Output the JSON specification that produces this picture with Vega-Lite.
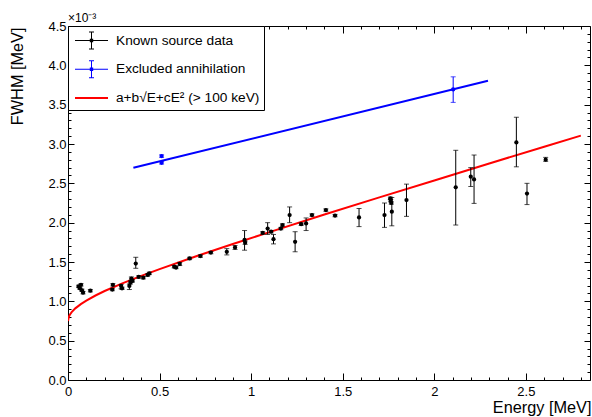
{
  "$schema": "https://vega.github.io/schema/vega-lite/v6.json",
  "width": 522,
  "height": 354,
  "autosize": "none",
  "padding": {"left": 68, "top": 26, "right": 2, "bottom": 37},
  "background": "white",
  "config": {
    "view": {"stroke": "black", "strokeWidth": 1},
    "font": "Liberation Sans",
    "axis": {"domain": false, "grid": false, "tickColor": "black", "labelColor": "black", "titleColor": "black", "labelFont": "Liberation Sans", "titleFont": "Liberation Sans", "labelFontSize": 13, "titleFontSize": 16.3, "titleFontWeight": "normal", "labelFlush": false, "labelOverlap": false}
  },
  "datasets": {
    "known": [
      {"E": 0.058, "F": 1.19, "lo": 1.175, "hi": 1.205, "series": "Known source data"},
      {"E": 0.065, "F": 1.165, "lo": 1.15, "hi": 1.18, "series": "Known source data"},
      {"E": 0.071, "F": 1.21, "lo": 1.195, "hi": 1.225, "series": "Known source data"},
      {"E": 0.076, "F": 1.14, "lo": 1.125, "hi": 1.155, "series": "Known source data"},
      {"E": 0.082, "F": 1.11, "lo": 1.095, "hi": 1.125, "series": "Known source data"},
      {"E": 0.122, "F": 1.135, "lo": 1.12, "hi": 1.15, "series": "Known source data"},
      {"E": 0.242, "F": 1.15, "lo": 1.135, "hi": 1.165, "series": "Known source data"},
      {"E": 0.245, "F": 1.21, "lo": 1.195, "hi": 1.225, "series": "Known source data"},
      {"E": 0.29, "F": 1.195, "lo": 1.16, "hi": 1.215, "series": "Known source data"},
      {"E": 0.295, "F": 1.165, "lo": 1.15, "hi": 1.18, "series": "Known source data"},
      {"E": 0.335, "F": 1.195, "lo": 1.15, "hi": 1.22, "series": "Known source data"},
      {"E": 0.341, "F": 1.24, "lo": 1.22, "hi": 1.26, "series": "Known source data"},
      {"E": 0.346, "F": 1.29, "lo": 1.27, "hi": 1.31, "series": "Known source data"},
      {"E": 0.352, "F": 1.26, "lo": 1.245, "hi": 1.275, "series": "Known source data"},
      {"E": 0.37, "F": 1.48, "lo": 1.42, "hi": 1.56, "series": "Known source data"},
      {"E": 0.386, "F": 1.31, "lo": 1.295, "hi": 1.325, "series": "Known source data"},
      {"E": 0.411, "F": 1.3, "lo": 1.285, "hi": 1.315, "series": "Known source data"},
      {"E": 0.435, "F": 1.335, "lo": 1.32, "hi": 1.35, "series": "Known source data"},
      {"E": 0.444, "F": 1.355, "lo": 1.34, "hi": 1.37, "series": "Known source data"},
      {"E": 0.58, "F": 1.44, "lo": 1.425, "hi": 1.455, "series": "Known source data"},
      {"E": 0.59, "F": 1.43, "lo": 1.415, "hi": 1.445, "series": "Known source data"},
      {"E": 0.61, "F": 1.475, "lo": 1.455, "hi": 1.495, "series": "Known source data"},
      {"E": 0.664, "F": 1.545, "lo": 1.53, "hi": 1.56, "series": "Known source data"},
      {"E": 0.723, "F": 1.575, "lo": 1.56, "hi": 1.59, "series": "Known source data"},
      {"E": 0.78, "F": 1.62, "lo": 1.605, "hi": 1.635, "series": "Known source data"},
      {"E": 0.867, "F": 1.63, "lo": 1.59, "hi": 1.67, "series": "Known source data"},
      {"E": 0.912, "F": 1.685, "lo": 1.66, "hi": 1.71, "series": "Known source data"},
      {"E": 0.964, "F": 1.78, "lo": 1.65, "hi": 1.9, "series": "Known source data"},
      {"E": 0.967, "F": 1.745, "lo": 1.725, "hi": 1.765, "series": "Known source data"},
      {"E": 1.063, "F": 1.87, "lo": 1.855, "hi": 1.885, "series": "Known source data"},
      {"E": 1.09, "F": 1.925, "lo": 1.85, "hi": 2.0, "series": "Known source data"},
      {"E": 1.109, "F": 1.885, "lo": 1.87, "hi": 1.9, "series": "Known source data"},
      {"E": 1.122, "F": 1.79, "lo": 1.73, "hi": 1.85, "series": "Known source data"},
      {"E": 1.162, "F": 1.925, "lo": 1.91, "hi": 1.94, "series": "Known source data"},
      {"E": 1.171, "F": 1.97, "lo": 1.955, "hi": 1.985, "series": "Known source data"},
      {"E": 1.21, "F": 2.097, "lo": 2.0, "hi": 2.2, "series": "Known source data"},
      {"E": 1.24, "F": 1.757, "lo": 1.63, "hi": 1.885, "series": "Known source data"},
      {"E": 1.273, "F": 1.98, "lo": 1.965, "hi": 1.995, "series": "Known source data"},
      {"E": 1.3, "F": 1.99, "lo": 1.9, "hi": 2.06, "series": "Known source data"},
      {"E": 1.332, "F": 2.097, "lo": 2.082, "hi": 2.112, "series": "Known source data"},
      {"E": 1.408, "F": 2.16, "lo": 2.145, "hi": 2.175, "series": "Known source data"},
      {"E": 1.458, "F": 2.09, "lo": 2.075, "hi": 2.105, "series": "Known source data"},
      {"E": 1.589, "F": 2.067, "lo": 1.95, "hi": 2.18, "series": "Known source data"},
      {"E": 1.728, "F": 2.097, "lo": 1.94, "hi": 2.25, "series": "Known source data"},
      {"E": 1.76, "F": 2.31, "lo": 2.295, "hi": 2.325, "series": "Known source data"},
      {"E": 1.762, "F": 2.28, "lo": 2.265, "hi": 2.295, "series": "Known source data"},
      {"E": 1.765, "F": 2.25, "lo": 2.235, "hi": 2.265, "series": "Known source data"},
      {"E": 1.768, "F": 2.14, "lo": 1.96, "hi": 2.32, "series": "Known source data"},
      {"E": 1.848, "F": 2.287, "lo": 2.08, "hi": 2.49, "series": "Known source data"},
      {"E": 2.117, "F": 2.45, "lo": 1.97, "hi": 2.92, "series": "Known source data"},
      {"E": 2.199, "F": 2.585, "lo": 2.46, "hi": 2.7, "series": "Known source data"},
      {"E": 2.217, "F": 2.55, "lo": 2.245, "hi": 2.86, "series": "Known source data"},
      {"E": 2.448, "F": 3.02, "lo": 2.71, "hi": 3.34, "series": "Known source data"},
      {"E": 2.506, "F": 2.37, "lo": 2.23, "hi": 2.5, "series": "Known source data"},
      {"E": 2.608, "F": 2.8, "lo": 2.78, "hi": 2.83, "series": "Known source data"}
    ],
    "excl": [
      {"E": 0.511, "F": 2.846, "lo": 2.83, "hi": 2.862, "series": "Excluded annihilation"},
      {"E": 0.511, "F": 2.761, "lo": 2.745, "hi": 2.777, "series": "Excluded annihilation"},
      {"E": 2.103, "F": 3.694, "lo": 3.529, "hi": 3.854, "series": "Excluded annihilation"}
    ],
    "exclfit": [
      {"E": 0.357, "F": 2.698},
      {"E": 2.293, "F": 3.803}
    ],
    "fit": [
      {"E": 0.0, "F": 0.75},
      {"E": 0.005, "F": 0.806},
      {"E": 0.01, "F": 0.83},
      {"E": 0.02, "F": 0.863},
      {"E": 0.04, "F": 0.911},
      {"E": 0.07, "F": 0.965},
      {"E": 0.1, "F": 1.01},
      {"E": 0.15, "F": 1.074},
      {"E": 0.2, "F": 1.131},
      {"E": 0.3, "F": 1.232},
      {"E": 0.4, "F": 1.324},
      {"E": 0.5, "F": 1.41},
      {"E": 0.7, "F": 1.573},
      {"E": 0.9, "F": 1.729},
      {"E": 1.1, "F": 1.88},
      {"E": 1.4, "F": 2.103},
      {"E": 1.7, "F": 2.321},
      {"E": 2.0, "F": 2.537},
      {"E": 2.3, "F": 2.752},
      {"E": 2.6, "F": 2.966},
      {"E": 2.8, "F": 3.107}
    ],
    "legendkeys": [],
    "note": [
      {"E": 0, "F": 4.5, "label": "×10⁻³"}
    ]
  },
  "resolve": {"axis": {"x": "independent", "y": "independent"}},
  "layer": [
    {
      "data": {"name": "fit"},
      "mark": {"type": "line", "color": "#ff0000", "strokeWidth": 2, "clip": true},
      "encoding": {
        "x": {"field": "E", "type": "quantitative", "scale": {"domain": [0, 2.85], "nice": false, "zero": false},
          "axis": {"orient": "bottom", "values": [0, 0.5, 1, 1.5, 2, 2.5], "format": "~g", "tickSize": -7, "labelPadding": 12, "title": "Energy [MeV]", "titleAnchor": "end", "titleAlign": "right", "titleX": 523, "titleY": 32, "titleBaseline": "alphabetic"}},
        "y": {"field": "F", "type": "quantitative", "scale": {"domain": [0, 4.5], "nice": false, "zero": false},
          "axis": {"orient": "left", "values": [0, 0.5, 1, 1.5, 2, 2.5, 3, 3.5, 4, 4.5], "format": ".1f", "tickSize": -6, "labelPadding": 8, "title": "FWHM [MeV]", "titleAngle": -90, "titleAlign": "right", "titleBaseline": "middle", "titleX": -51, "titleY": 1}}
      }
    },
    {
      "data": {"name": "exclfit"},
      "mark": {"type": "line", "color": "#0000ff", "strokeWidth": 2},
      "encoding": {
        "x": {"field": "E", "type": "quantitative",
          "axis": {"orient": "bottom", "values": [0.1, 0.2, 0.3, 0.4, 0.6, 0.7, 0.8, 0.9, 1.1, 1.2, 1.3, 1.4, 1.6, 1.7, 1.8, 1.9, 2.1, 2.2, 2.3, 2.4, 2.6, 2.7, 2.8], "labels": false, "tickSize": -3, "title": null}},
        "y": {"field": "F", "type": "quantitative",
          "axis": {"orient": "left", "values": [0.1, 0.2, 0.3, 0.4, 0.6, 0.7, 0.8, 0.9, 1.1, 1.2, 1.3, 1.4, 1.6, 1.7, 1.8, 1.9, 2.1, 2.2, 2.3, 2.4, 2.6, 2.7, 2.8, 2.9, 3.1, 3.2, 3.3, 3.4, 3.6, 3.7, 3.8, 3.9, 4.1, 4.2, 4.3, 4.4], "labels": false, "tickSize": -3, "title": null}}
      }
    },
    {
      "data": {"name": "known"},
      "mark": {"type": "rule", "color": "black", "strokeWidth": 1},
      "encoding": {
        "x": {"field": "E", "type": "quantitative",
          "axis": {"orient": "top", "values": [0, 0.5, 1, 1.5, 2, 2.5], "labels": false, "tickSize": -7, "title": null}},
        "y": {"field": "lo", "type": "quantitative",
          "axis": {"orient": "right", "values": [0, 0.5, 1, 1.5, 2, 2.5, 3, 3.5, 4, 4.5], "labels": false, "tickSize": -6, "title": null}},
        "y2": {"field": "hi"}
      }
    },
    {
      "data": {"name": "known"},
      "mark": {"type": "tick", "orient": "horizontal", "color": "black", "size": 5, "thickness": 1},
      "encoding": {
        "x": {"field": "E", "type": "quantitative",
          "axis": {"orient": "top", "values": [0.1, 0.2, 0.3, 0.4, 0.6, 0.7, 0.8, 0.9, 1.1, 1.2, 1.3, 1.4, 1.6, 1.7, 1.8, 1.9, 2.1, 2.2, 2.3, 2.4, 2.6, 2.7, 2.8], "labels": false, "tickSize": -3, "title": null}},
        "y": {"field": "lo", "type": "quantitative",
          "axis": {"orient": "right", "values": [0.1, 0.2, 0.3, 0.4, 0.6, 0.7, 0.8, 0.9, 1.1, 1.2, 1.3, 1.4, 1.6, 1.7, 1.8, 1.9, 2.1, 2.2, 2.3, 2.4, 2.6, 2.7, 2.8, 2.9, 3.1, 3.2, 3.3, 3.4, 3.6, 3.7, 3.8, 3.9, 4.1, 4.2, 4.3, 4.4], "labels": false, "tickSize": -3, "title": null}}
      }
    },
    {
      "data": {"name": "known"},
      "mark": {"type": "tick", "orient": "horizontal", "color": "black", "size": 5, "thickness": 1},
      "encoding": {
        "x": {"field": "E", "type": "quantitative", "axis": null},
        "y": {"field": "hi", "type": "quantitative", "axis": null}
      }
    },
    {
      "data": {"name": "excl"},
      "mark": {"type": "rule", "color": "#0000ff", "strokeWidth": 1},
      "encoding": {
        "x": {"field": "E", "type": "quantitative", "axis": null},
        "y": {"field": "lo", "type": "quantitative", "axis": null},
        "y2": {"field": "hi"}
      }
    },
    {
      "data": {"name": "excl"},
      "mark": {"type": "tick", "orient": "horizontal", "color": "#0000ff", "size": 5, "thickness": 1},
      "encoding": {
        "x": {"field": "E", "type": "quantitative", "axis": null},
        "y": {"field": "lo", "type": "quantitative", "axis": null}
      }
    },
    {
      "data": {"name": "excl"},
      "mark": {"type": "tick", "orient": "horizontal", "color": "#0000ff", "size": 5, "thickness": 1},
      "encoding": {
        "x": {"field": "E", "type": "quantitative", "axis": null},
        "y": {"field": "hi", "type": "quantitative", "axis": null}
      }
    },
    {
      "data": {"name": "known"},
      "mark": {"type": "point", "filled": true, "shape": "circle", "size": 18, "opacity": 1, "color": "black"},
      "encoding": {
        "x": {"field": "E", "type": "quantitative", "axis": null},
        "y": {"field": "F", "type": "quantitative", "axis": null}
      }
    },
    {
      "data": {"name": "excl"},
      "mark": {"type": "point", "filled": true, "shape": "circle", "size": 18, "opacity": 1, "color": "#0000ff"},
      "encoding": {
        "x": {"field": "E", "type": "quantitative", "axis": null},
        "y": {"field": "F", "type": "quantitative", "axis": null}
      }
    },
    {
      "data": {"name": "legendkeys"},
      "mark": {"type": "point", "filled": true, "opacity": 1, "strokeWidth": 0},
      "encoding": {
        "x": {"field": "E", "type": "quantitative", "axis": null},
        "y": {"field": "F", "type": "quantitative", "axis": null},
        "color": {"field": "series", "type": "nominal",
          "scale": {"domain": ["Known source data", "Excluded annihilation", "a+b√E+cE² (> 100 keV)"], "range": ["#000000", "#0000ff", "#ff0000"]},
          "legend": {
            "title": null, "orient": "top-left", "offset": 0, "padding": 4.5,
            "strokeColor": "black", "fillColor": "white",
            "symbolSize": 400, "symbolOffset": 9, "labelOffset": 14.5, "rowPadding": 9.8,
            "symbolOpacity": 1, "symbolStrokeWidth": 0,
            "labelFont": "Liberation Sans", "labelFontSize": 13.7, "labelColor": "black", "labelLimit": 300
          }},
        "shape": {"field": "series", "type": "nominal",
          "scale": {"domain": ["Known source data", "Excluded annihilation", "a+b√E+cE² (> 100 keV)"],
            "range": [
              "M-1.65,-0.05H1.65V0.05H-1.65ZM-0.05,-0.85H0.05V0.85H-0.05ZM-0.25,-0.9H0.25V-0.8H-0.25ZM-0.25,0.8H0.25V0.9H-0.25ZM-0.17,-0.17H0.17V0.17H-0.17Z",
              "M-1.65,-0.05H1.65V0.05H-1.65ZM-0.05,-0.85H0.05V0.85H-0.05ZM-0.25,-0.9H0.25V-0.8H-0.25ZM-0.25,0.8H0.25V0.9H-0.25ZM-0.17,-0.17H0.17V0.17H-0.17Z",
              "M-1.65,-0.1H1.65V0.1H-1.65Z"
            ]},
          "legend": {
            "title": null, "orient": "top-left", "offset": 0, "padding": 4.5,
            "strokeColor": "black", "fillColor": "white",
            "symbolSize": 400, "symbolOffset": 9, "labelOffset": 14.5, "rowPadding": 9.8,
            "symbolOpacity": 1, "symbolStrokeWidth": 0,
            "labelFont": "Liberation Sans", "labelFontSize": 13.7, "labelColor": "black", "labelLimit": 300
          }}
      }
    },
    {
      "data": {"name": "note"},
      "mark": {"type": "text", "align": "left", "baseline": "bottom", "dx": 0, "dy": -1, "fontSize": 12, "font": "Liberation Sans", "color": "black"},
      "encoding": {
        "x": {"field": "E", "type": "quantitative", "axis": null},
        "y": {"field": "F", "type": "quantitative", "axis": null},
        "text": {"field": "label"}
      }
    }
  ]
}
